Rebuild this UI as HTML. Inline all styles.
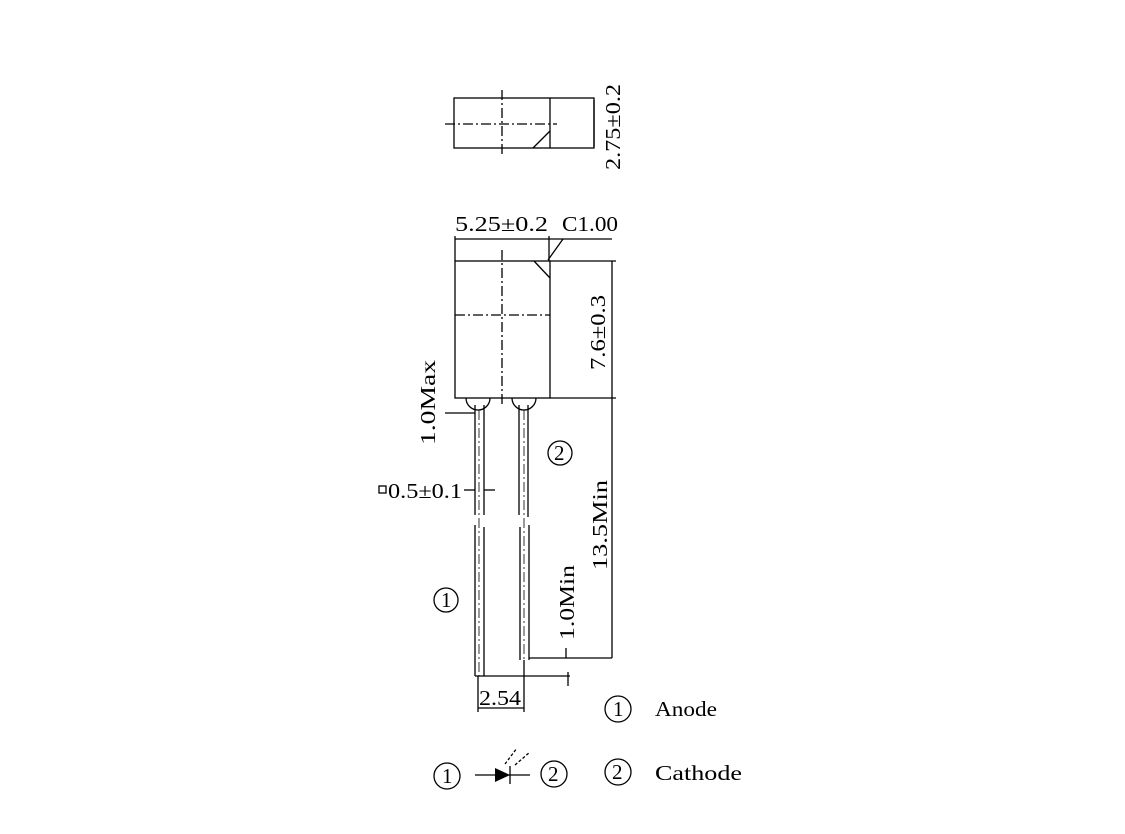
<!DOCTYPE html>
<html><head><style>
body{margin:0;background:#fff}
svg text{font-family:"Liberation Serif",serif;fill:#000}
</style></head><body>
<svg width="1125" height="829" viewBox="0 0 1125 829" xmlns="http://www.w3.org/2000/svg">
<g stroke="#000" stroke-width="1.3" fill="none">
<rect x="454" y="98" width="140" height="50"/>
<line x1="550" y1="98" x2="550" y2="148"/>
<line x1="533" y1="148" x2="550" y2="131"/>
<line x1="502" y1="90" x2="502" y2="157" stroke-dasharray="10,3,2,3"/>
<line x1="445" y1="124" x2="557" y2="124" stroke-dasharray="10,3,2,3"/>
<line x1="594" y1="100" x2="594" y2="147"/>
<rect x="455" y="261" width="95" height="137"/>
<line x1="550" y1="261" x2="616" y2="261"/>
<line x1="550" y1="398" x2="616" y2="398"/>
<line x1="612" y1="261" x2="612" y2="658"/>
<line x1="455" y1="315" x2="550" y2="315" stroke-dasharray="10,3,2,3"/>
<line x1="502" y1="250" x2="502" y2="405" stroke-dasharray="10,3,2,3"/>
<line x1="455" y1="236" x2="455" y2="261"/>
<line x1="549" y1="236" x2="549" y2="261"/>
<line x1="455" y1="239" x2="612" y2="239"/>
<line x1="563" y1="239" x2="548" y2="260"/>
<line x1="534" y1="261" x2="550" y2="278"/>
<path d="M466 398 A12 12 0 0 0 490 398"/>
<path d="M512 398 A12 12 0 0 0 536 398"/>
<line x1="475" y1="405" x2="475" y2="515"/><line x1="484" y1="405" x2="484" y2="515"/>
<line x1="475" y1="525" x2="475" y2="676"/><line x1="484" y1="527" x2="484" y2="676"/>
<line x1="479" y1="410" x2="479" y2="676" stroke-dasharray="10,3,2,3" stroke-width="0.8"/>
<line x1="519" y1="405" x2="519" y2="515"/><line x1="528" y1="405" x2="528" y2="517"/>
<line x1="520" y1="527" x2="520" y2="660"/><line x1="529" y1="525" x2="529" y2="660"/>
<line x1="524" y1="410" x2="524" y2="660" stroke-dasharray="10,3,2,3" stroke-width="0.8"/>
<line x1="475" y1="676" x2="570" y2="676"/>
<line x1="568" y1="672" x2="568" y2="686"/>
<line x1="529" y1="658" x2="612" y2="658"/>
<line x1="566" y1="648" x2="566" y2="658"/>
<line x1="524" y1="660" x2="524" y2="712"/>
<line x1="478" y1="676" x2="478" y2="712"/>
<line x1="478" y1="708" x2="524" y2="708"/>
<line x1="445" y1="413" x2="475" y2="413"/>
<line x1="464" y1="490" x2="475" y2="490"/><line x1="484" y1="490" x2="495" y2="490"/>
<rect x="379" y="486" width="7" height="7"/>
<circle cx="560" cy="453" r="12"/>
<circle cx="446" cy="600" r="12"/>
<circle cx="618" cy="709" r="13"/>
<circle cx="618" cy="772" r="13"/>
<circle cx="447" cy="776" r="13"/>
<circle cx="554" cy="774" r="13"/>
<line x1="475" y1="775" x2="530" y2="775"/>
<line x1="510" y1="766" x2="510" y2="784"/>
<line x1="505" y1="764" x2="517" y2="748" stroke-dasharray="3,2"/>
<line x1="515" y1="765" x2="530" y2="752" stroke-dasharray="3,2"/>
</g>
<polygon points="495,768 495,782 510,775" fill="#000"/>
<g font-size="21">
<text x="0" y="0" transform="translate(620,170) rotate(-90)" textLength="86" lengthAdjust="spacingAndGlyphs">2.75±0.2</text>
<text x="455" y="231" textLength="93" lengthAdjust="spacingAndGlyphs">5.25±0.2</text>
<text x="562" y="231" textLength="56" lengthAdjust="spacingAndGlyphs">C1.00</text>
<text x="0" y="0" transform="translate(605,370) rotate(-90)" textLength="75" lengthAdjust="spacingAndGlyphs">7.6±0.3</text>
<text x="0" y="0" transform="translate(435,445) rotate(-90)" textLength="85" lengthAdjust="spacingAndGlyphs">1.0Max</text>
<text x="388" y="498" textLength="74" lengthAdjust="spacingAndGlyphs">0.5±0.1</text>
<text x="0" y="0" transform="translate(607,570) rotate(-90)" textLength="90" lengthAdjust="spacingAndGlyphs">13.5Min</text>
<text x="0" y="0" transform="translate(574,640) rotate(-90)" textLength="75" lengthAdjust="spacingAndGlyphs">1.0Min</text>
<text x="479" y="705" textLength="42" lengthAdjust="spacingAndGlyphs">2.54</text>
<text x="554" y="460">2</text>
<text x="441" y="607">1</text>
<text x="613" y="716">1</text>
<text x="612" y="779">2</text>
<text x="442" y="783">1</text>
<text x="548" y="781">2</text>
<text x="655" y="716" textLength="62" lengthAdjust="spacingAndGlyphs">Anode</text>
<text x="655" y="780" textLength="87" lengthAdjust="spacingAndGlyphs">Cathode</text>
</g>
</svg>
</body></html>
